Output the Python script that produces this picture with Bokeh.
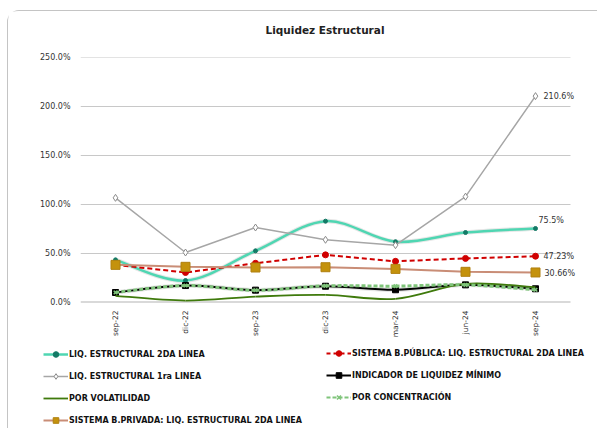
import math
from bokeh.plotting import figure
from bokeh.layouts import column
from bokeh.models import Range1d, Legend, LegendItem, Label, FixedTicker
from bokeh.embed import file_html
from bokeh.resources import INLINE

categories = ["sep-22", "dic-22", "sep-23", "dic-23", "mar-24", "jun-24", "sep-24"]
liq_2da = [43.5, 22.4, 52.7, 83.0, 62.0, 71.4, 75.5]
b_publica = [38.5, 30.6, 40.0, 48.6, 42.0, 45.0, 47.23]
liq_1ra = [106.8, 51.0, 76.5, 64.0, 58.5, 108.0, 210.6]
indicador_min = [10.2, 17.3, 12.6, 16.6, 13.0, 18.0, 14.0]
volatilidad = [6.8, 2.0, 6.0, 7.8, 3.8, 19.0, 15.6]
concentracion = [10.2, 17.3, 12.5, 17.0, 16.7, 18.0, 13.0]
b_privada = [38.4, 36.4, 35.7, 36.0, 34.3, 31.3, 30.66]
y_ticks = [0, 50, 100, 150, 200, 250]
title_text = "Liquidez Estructural"

FONT = "DejaVu Sans"
BORDER = "1.5px solid #c4c4c4"
n = len(categories)
xs = list(range(n))


def blank(fig):
    fig.outline_line_color = None
    fig.xgrid.visible = False
    fig.ygrid.visible = False
    fig.background_fill_color = "white"
    fig.border_fill_color = "white"
    fig.frame_align = False


# ---- title strip ----
t = figure(width=590, height=30, output_backend="svg", toolbar_location=None,
           x_range=Range1d(0, 590), y_range=Range1d(0, 30),
           x_axis_location=None, y_axis_location=None,
           min_border_left=0, min_border_right=0, min_border_top=0, min_border_bottom=0)
t.margin = (10, 0, 0, 7)
t.styles = {"border-top": BORDER, "border-left": BORDER, "border-top-left-radius": "12px"}
blank(t)
t.add_layout(Label(x=316.5, y=12, text=title_text, text_font=FONT, text_font_size="10.5px",
                   text_font_style="bold", text_color="#222222", text_align="center",
                   text_baseline="middle"))

# ---- chart ----
frame_w = 590 - 72 - 2
x_end = -0.5 + frame_w / 70.0

p = figure(width=590, height=304, output_backend="svg", toolbar_location=None,
           x_range=Range1d(-0.5, x_end), y_range=Range1d(0, 250),
           min_border_left=72, min_border_right=2, min_border_top=17,
           min_border_bottom=42)
p.margin = (0, 0, 0, 7)
p.styles = {"border-left": BORDER}
blank(p)

p.segment(x0=[-0.5] * (len(y_ticks) - 1), x1=[n - 0.5] * (len(y_ticks) - 1),
          y0=y_ticks[1:], y1=y_ticks[1:], line_color="#c8c8c8", line_width=1)
p.segment(x0=[-0.5], x1=[n - 0.5], y0=[y_ticks[0]], y1=[y_ticks[0]],
          line_color="#b4b4b4", line_width=2)

p.yaxis.ticker = FixedTicker(ticks=y_ticks)
p.yaxis.major_label_overrides = {v: f"{v:.1f}%" for v in y_ticks}
p.yaxis.axis_line_color = None
p.yaxis.major_tick_line_color = None
p.yaxis.major_tick_out = 0
p.yaxis.major_tick_in = 0
p.yaxis.minor_tick_line_color = None
p.yaxis.major_label_text_font = FONT
p.yaxis.major_label_text_font_size = "8px"
p.yaxis.major_label_text_color = "#333333"
p.yaxis.major_label_standoff = 10

p.xaxis.ticker = FixedTicker(ticks=xs)
p.xaxis.major_label_overrides = {i: c for i, c in enumerate(categories)}
p.xaxis.major_label_orientation = math.pi / 2
p.xaxis.axis_line_color = None
p.xaxis.major_tick_line_color = None
p.xaxis.major_tick_out = 0
p.xaxis.major_tick_in = 0
p.xaxis.minor_tick_line_color = None
p.xaxis.major_label_text_font = FONT
p.xaxis.major_label_text_font_size = "7.5px"
p.xaxis.major_label_text_color = "#333333"
p.xaxis.major_label_standoff = 8


def smooth(x, y, color, width, dash="solid", alpha=1.0):
    m = len(x)
    x0, y0, x1, y1, cx0, cy0, cx1, cy1 = [], [], [], [], [], [], [], []
    for i in range(m - 1):
        xa, ya = x[max(i - 1, 0)], y[max(i - 1, 0)]
        xb, yb = x[i], y[i]
        xc, yc = x[i + 1], y[i + 1]
        xd, yd = x[min(i + 2, m - 1)], y[min(i + 2, m - 1)]
        x0.append(xb); y0.append(yb); x1.append(xc); y1.append(yc)
        cx0.append(xb + (xc - xa) / 6); cy0.append(yb + (yc - ya) / 6)
        cx1.append(xc - (xd - xb) / 6); cy1.append(yc - (yd - yb) / 6)
    return p.bezier(x0=x0, y0=y0, x1=x1, y1=y1, cx0=cx0, cy0=cy0, cx1=cx1, cy1=cy1,
                    line_color=color, line_width=width, line_dash=dash, line_alpha=alpha)


TEAL = "#4fd6b2"
RED = "#d00000"
GRAY = "#a6a6a6"
DGREEN = "#3f7a0c"
LGREEN = "#7fc47a"
ROSY = "#c98d76"
GOLD = "#c4920c"

smooth(xs, liq_2da, "#9a9a9a", 4.5, alpha=0.25)
smooth(xs, indicador_min, "#9a9a9a", 4.5, alpha=0.25)

smooth(xs, liq_2da, TEAL, 2.5)
p.scatter(xs, liq_2da, marker="circle", size=4, fill_color="#137a66", line_color="#137a66")
p.line(xs, b_publica, line_color=RED, line_width=2, line_dash="5 3")
p.scatter(xs, b_publica, marker="circle", size=6, fill_color=RED, line_color=RED)
p.line(xs, liq_1ra, line_color=GRAY, line_width=1.5)
p.scatter(xs, liq_1ra, marker="diamond", size=7, fill_color="white",
          line_color="#8a8a8a", line_width=1)
smooth(xs, indicador_min, "#000000", 2)
p.scatter(xs, indicador_min, marker="square", size=6, fill_color="black", line_color="black")
smooth(xs, volatilidad, DGREEN, 1.8)
smooth(xs, concentracion, LGREEN, 3, dash="4 2")
p.scatter(xs, concentracion, marker="x", size=5, line_color=LGREEN, line_width=1.5)
p.line(xs, b_privada, line_color=ROSY, line_width=2)
p.scatter(xs, b_privada, marker="square", size=9, fill_color=GOLD, line_color="#b08010")

last = n - 1
for val, dx, dy, fmt in [(liq_1ra[last], 8, 0, "{:.1f}%"), (liq_2da[last], 3, 8, "{:.1f}%"),
                         (b_publica[last], 8, 0, "{:.2f}%"), (b_privada[last], 9, -1, "{:.2f}%")]:
    p.add_layout(Label(x=last, y=val, x_offset=dx, y_offset=dy, text=fmt.format(val),
                       text_font=FONT, text_font_size="8px", text_color="#333333",
                       text_baseline="middle"))

# ---- legend strip ----
q = figure(width=590, height=84, output_backend="svg", toolbar_location=None,
           x_range=Range1d(0, 1), y_range=Range1d(0, 1),
           x_axis_location=None, y_axis_location=None,
           min_border_left=0, min_border_right=0, min_border_top=0, min_border_bottom=0)
q.margin = (0, 0, 0, 7)
q.styles = {"border-left": BORDER}
blank(q)


def proxy_line(color, width, dash="solid"):
    return q.line([0, 0], [-10, -10], line_color=color, line_width=width, line_dash=dash)


def proxy_mark(marker, size, fill, line, lw=1):
    return q.scatter([0], [-10], marker=marker, size=size, fill_color=fill, line_color=line,
                     line_width=lw)


items1 = [
    LegendItem(label="LIQ. ESTRUCTURAL 2DA LINEA",
               renderers=[proxy_line(TEAL, 2.5), proxy_mark("circle", 4, "#137a66", "#137a66")]),
    LegendItem(label="LIQ. ESTRUCTURAL 1ra LINEA",
               renderers=[proxy_line(GRAY, 1.5), proxy_mark("diamond", 7, "white", "#8a8a8a")]),
    LegendItem(label="POR VOLATILIDAD", renderers=[proxy_line(DGREEN, 1.8)]),
    LegendItem(label="SISTEMA B.PRIVADA: LIQ. ESTRUCTURAL 2DA LINEA",
               renderers=[proxy_line(ROSY, 2), proxy_mark("square", 9, GOLD, "#b08010")]),
]
items2 = [
    LegendItem(label="SISTEMA B.PÚBLICA: LIQ. ESTRUCTURAL 2DA LINEA",
               renderers=[proxy_line(RED, 2, "4 3"), proxy_mark("circle", 6, RED, RED)]),
    LegendItem(label="INDICADOR DE LIQUIDEZ MÍNIMO",
               renderers=[proxy_line("black", 2), proxy_mark("square", 6, "black", "black")]),
    LegendItem(label="POR CONCENTRACIÓN",
               renderers=[proxy_line(LGREEN, 2, "4 2"), proxy_mark("x", 5, LGREEN, LGREEN, 1.5)]),
]
for items, loc in [(items1, (35, 1)), (items2, (318, 24))]:
    lg = Legend(items=items, location=loc, orientation="vertical")
    lg.border_line_color = None
    lg.background_fill_alpha = 0
    lg.label_text_font = FONT
    lg.label_text_font_size = "8px"
    lg.label_text_font_style = "bold"
    lg.label_text_color = "#111111"
    lg.glyph_width = 25
    lg.glyph_height = 14
    lg.label_height = 14
    lg.label_standoff = 1
    lg.spacing = 8
    lg.padding = 0
    lg.margin = 0
    q.add_layout(lg, "center")

root = column(t, p, q, spacing=0)
open("out.html", "w").write(file_html(root, INLINE))
